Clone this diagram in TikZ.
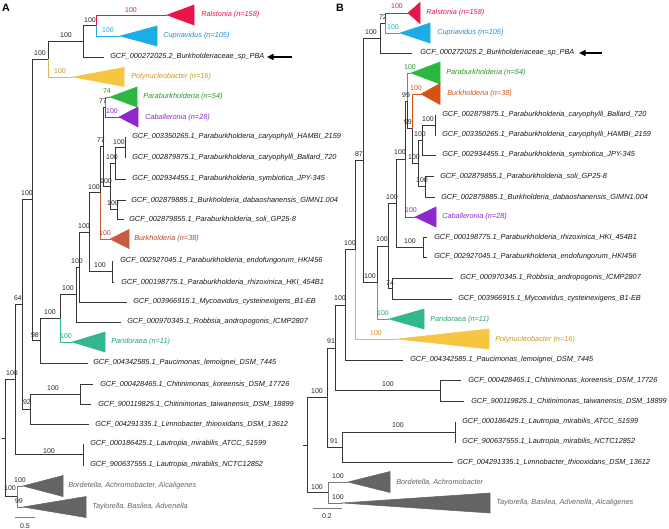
\documentclass[tikz,border=0pt]{standalone}
\usepackage{fontspec}
\setmainfont{Liberation Sans}
\usetikzlibrary{arrows.meta}
\newcommand{\leaffont}{\fontsize{5.5}{6}\selectfont\itshape}
\newcommand{\supfont}{\fontsize{5.2}{6}\selectfont}
\definecolor{lineg}{RGB}{55,55,55}
\definecolor{txtc}{RGB}{25,25,25}
\definecolor{supc}{RGB}{40,40,40}
\definecolor{ralc}{RGB}{232,22,72}
\definecolor{cupc}{RGB}{28,172,232}
\definecolor{cuptx}{RGB}{40,140,205}
\definecolor{polc}{RGB}{246,198,66}
\definecolor{polln}{RGB}{222,182,92}
\definecolor{poltx}{RGB}{200,150,40}
\definecolor{parc}{RGB}{44,184,64}
\definecolor{partx}{RGB}{40,150,40}
\definecolor{cabc}{RGB}{142,40,204}
\definecolor{buAc}{RGB}{200,92,62}
\definecolor{buAtx}{RGB}{170,72,52}
\definecolor{buBc}{RGB}{214,82,20}
\definecolor{buBtx}{RGB}{200,90,30}
\definecolor{panc}{RGB}{52,182,142}
\definecolor{pantx}{RGB}{40,160,120}
\definecolor{greyc}{RGB}{100,100,100}
\definecolor{greyln}{RGB}{120,120,120}
\begin{document}
\begin{tikzpicture}[x=0.75pt,y=-0.75pt,
  br/.style={draw=lineg, line width=0.7pt},
  leaf/.style={anchor=west, inner sep=0pt, font=\leaffont, text=txtc},
  sup/.style={inner sep=0pt, font=\supfont, text=supc},
  panel/.style={inner sep=0pt, font=\fontsize{8}{9}\selectfont\bfseries}]
\useasboundingbox (0,0) rectangle (669,529);
\fill[white] (0,0) rectangle (669,529);

%================ PANEL A =================
\node[panel] (labA) at (6,8) {A};
% coordinates
\coordinate (aRoot) at (5,438);
\coordinate (aRootL) at (2,438);
\coordinate (aFF) at (15,379.5);
\coordinate (aHH) at (17,496.5);
\coordinate (aBor) at (23,486);
\coordinate (aTay) at (23,507);
\coordinate (aCC) at (22,304.4);
\coordinate (aGG) at (83,454.5);
\coordinate (aL22) at (84,444);
\coordinate (aL23) at (84,465);
\coordinate (aEE) at (30,409);
\coordinate (aDD) at (80,394);
\coordinate (aL19) at (93,384);
\coordinate (aL20) at (91,404);
\coordinate (aLim) at (89,424);
\coordinate (aBB) at (32,199.75);
\coordinate (aTOP) at (48,59);
\coordinate (aN2) at (83,41.25);
\coordinate (aN1) at (96,25.5);
\coordinate (aRal) at (167,15);
\coordinate (aCup) at (120,36);
\coordinate (aPBA) at (104,57);
\coordinate (aPoly) at (73,77);
\coordinate (aAA) at (40,340.5);
\coordinate (aPau) at (88,363);
\coordinate (aZ) at (60,318);
\coordinate (aPan) at (72,342);
\coordinate (aY) at (76,294.5);
\coordinate (aRob) at (121,322);
\coordinate (aX) at (79,267);
\coordinate (aMyc) at (127,302);
\coordinate (aW) at (89,232);
\coordinate (aN1314) at (112,271.5);
\coordinate (aL13) at (113,261);
\coordinate (aL14) at (114,282);
\coordinate (aV) at (100,192.75);
\coordinate (aBur) at (110,239);
\coordinate (aT) at (103,146.5);
\coordinate (aU) at (105,107);
\coordinate (aPara) at (110,97);
\coordinate (aCab) at (119,117);
\coordinate (aR) at (110,186.25);
\coordinate (aQ) at (115,163.25);
\coordinate (aP) at (125,147.5);
\coordinate (aL7) at (125,137);
\coordinate (aL8) at (125,158);
\coordinate (aL9) at (126,179);
\coordinate (aS) at (117,209.5);
\coordinate (aL10) at (126,200);
\coordinate (aL11) at (124,219);

% black branches
\draw[br] (aRootL) -- (aRoot);
\draw[br] (aRoot) |- (aFF);
\draw[br] (aRoot) |- (aHH);
\draw[br] (aFF) |- (aCC);
\draw[br] (aFF) |- (aGG);
\draw[br] (aGG) |- (aL22);
\draw[br] (aGG) |- (aL23);
\draw[br] (aCC) |- (aBB);
\draw[br] (aCC) |- (aEE);
\draw[br] (aEE) |- (aDD);
\draw[br] (aEE) |- (aLim);
\draw[br] (aDD) |- (aL19);
\draw[br] (aDD) |- (aL20);
\draw[br] (aBB) |- (aTOP);
\draw[br] (aBB) |- (aAA);
\draw[br] (aTOP) |- (aN2);
\draw[br] (aN2) |- (aN1);
\draw[br] (aN2) |- (aPBA);
\draw[br] (aAA) |- (aZ);
\draw[br] (aAA) |- (aPau);
\draw[br] (aZ) |- (aY);
\draw[br] (aY) |- (aX);
\draw[br] (aY) |- (aRob);
\draw[br] (aX) |- (aW);
\draw[br] (aX) |- (aMyc);
\draw[br] (aW) |- (aV);
\draw[br] (aW) |- (aN1314);
\draw[br] (aN1314) |- (aL13);
\draw[br] (aN1314) |- (aL14);
\draw[br] (aV) |- (aT);
\draw[br] (aT) |- (aU);
\draw[br] (aT) |- (aR);
\draw[br] (aR) |- (aQ);
\draw[br] (aR) |- (aS);
\draw[br] (aQ) |- (aP);
\draw[br] (aQ) |- (aL9);
\draw[br] (aP) |- (aL7);
\draw[br] (aP) |- (aL8);
\draw[br] (aS) |- (aL10);
\draw[br] (aS) |- (aL11);
% coloured branches
\draw[br, draw=ralc] (aN1) |- (aRal);
\draw[br, draw=cupc] (aN1) |- (aCup);
\draw[br, draw=polln] (aTOP) |- (aPoly);
\draw[br, draw=panc] (aZ) |- (aPan);
\draw[br, draw=buAc] (aV) |- (aBur);
\draw[br, draw=parc] (aU) |- (aPara);
\draw[br, draw=cabc] (aU) |- (aCab);
\draw[br, draw=greyln] (aHH) |- (aBor);
\draw[br, draw=greyln] (aHH) |- (aTay);
% triangles
\filldraw[fill=ralc, draw=ralc] (aRal) -- ++(27,-10) -- ++(0,20) -- cycle;
\filldraw[fill=cupc, draw=cupc] (aCup) -- ++(37,-10) -- ++(0,20) -- cycle;
\filldraw[fill=polc, draw=polc] (aPoly) -- ++(51,-9.5) -- ++(0,19) -- cycle;
\filldraw[fill=parc, draw=parc] (aPara) -- ++(27,-10) -- ++(0,20) -- cycle;
\filldraw[fill=cabc, draw=cabc] (aCab) -- ++(19,-10) -- ++(0,20) -- cycle;
\filldraw[fill=buAc, draw=buAc] (aBur) -- ++(19,-9.5) -- ++(0,19) -- cycle;
\filldraw[fill=panc, draw=panc] (aPan) -- ++(33,-10) -- ++(0,20) -- cycle;
\filldraw[fill=greyc, draw=greyc] (aBor) -- ++(40,-10.5) -- ++(0,21) -- cycle;
\filldraw[fill=greyc, draw=greyc] (aTay) -- ++(63,-10.5) -- ++(0,21) -- cycle;
% leaf labels
\node[leaf, text=ralc] (aRalT) at (201,15) {Ralstonia (n=158)};
\node[leaf, text=cuptx] (aCupT) at (163,36) {Cupriavidus (n=105)};
\node[leaf] (aPBAT) at (110,57) {GCF\_000272025.2\_Burkholderiaceae\_sp\_PBA};
\node[leaf, text=poltx] (aPolyT) at (131,77) {Polynucleobacter (n=16)};
\node[leaf, text=partx] (aParaT) at (143,97) {Paraburkholderia (n=54)};
\node[leaf, text=cabc] (aCabT) at (145,118) {Caballeronia (n=28)};
\node[leaf] (aL7T) at (132,137) {GCF\_003350265.1\_Paraburkholderia\_caryophylli\_HAMBI\_2159};
\node[leaf] (aL8T) at (132,158) {GCF\_002879875.1\_Paraburkholderia\_caryophylli\_Ballard\_720};
\node[leaf] (aL9T) at (132,179) {GCF\_002934455.1\_Paraburkholderia\_symbiotica\_JPY-345};
\node[leaf] (aL10T) at (131,200) {GCF\_002879885.1\_Burkholderia\_dabaoshanensis\_GIMN1.004};
\node[leaf] (aL11T) at (129,219) {GCF\_002879855.1\_Paraburkholderia\_soli\_GP25-8};
\node[leaf, text=buAtx] (aBurT) at (134,239) {Burkholderia (n=38)};
\node[leaf] (aL13T) at (120,261) {GCF\_002927045.1\_Paraburkholderia\_endofungorum\_HKI456};
\node[leaf] (aL14T) at (121,282) {GCF\_000198775.1\_Paraburkholderia\_rhizoxinica\_HKI\_454B1};
\node[leaf] (aMycT) at (133,302) {GCF\_003966915.1\_Mycoavidus\_cysteinexigens\_B1-EB};
\node[leaf] (aRobT) at (127,322) {GCF\_000970345.1\_Robbsia\_andropogonis\_ICMP2807};
\node[leaf, text=pantx] (aPanT) at (111,342) {Pandoraea (n=11)};
\node[leaf] (aPauT) at (93,363) {GCF\_004342585.1\_Paucimonas\_lemoignei\_DSM\_7445};
\node[leaf] (aL19T) at (100,384) {GCF\_000428465.1\_Chitinimonas\_koreensis\_DSM\_17726};
\node[leaf] (aL20T) at (98,404) {GCF\_900119825.1\_Chitinimonas\_taiwanensis\_DSM\_18899};
\node[leaf] (aLimT) at (95,424) {GCF\_004291335.1\_Limnobacter\_thiooxidans\_DSM\_13612};
\node[leaf] (aL22T) at (90,444) {GCF\_000186425.1\_Lautropia\_mirabilis\_ATCC\_51599};
\node[leaf] (aL23T) at (90,465) {GCF\_900637555.1\_Lautropia\_mirabilis\_NCTC12852};
\node[leaf, text=greyc] (aBorT) at (68,486) {Bordetella, Achromobacter, Alcaligenes};
\node[leaf, text=greyc] (aTayT) at (92,507) {Taylorella, Basilea, Advenella};
% support values
\node[sup, text=ralc] (as1) at (131,10) {100};
\node[sup, text=cupc] (as2) at (108,30) {100};
\node[sup] (as3) at (90,20) {100};
\node[sup] (as4) at (66,35) {100};
\node[sup] (as5) at (40,53) {100};
\node[sup, text=poltx] (as6) at (60,71) {100};
\node[sup, text=partx] (as7) at (107,91) {74};
\node[sup] (as8) at (103,101) {77};
\node[sup, text=cabc] (as9) at (112,111) {100};
\node[sup] (as10) at (101,140) {77};
\node[sup] (as11) at (119,142) {100};
\node[sup] (as12) at (112,157) {100};
\node[sup] (as13) at (106,181) {100};
\node[sup] (as14) at (113,203) {100};
\node[sup] (as15) at (94,187) {100};
\node[sup, text=buAtx] (as16) at (105,233) {100};
\node[sup] (as17) at (84,226) {100};
\node[sup] (as18) at (100,265) {100};
\node[sup] (as19) at (77,261) {100};
\node[sup] (as20) at (68,288) {100};
\node[sup] (as21) at (50,312) {100};
\node[sup, text=pantx] (as22) at (66,336) {100};
\node[sup] (as23) at (35,335) {98};
\node[sup] (as24) at (27,193) {100};
\node[sup] (as25) at (18,298) {64};
\node[sup] (as26) at (12,373) {100};
\node[sup] (as27) at (53,388) {100};
\node[sup] (as28) at (27,402) {92};
\node[sup] (as29) at (49,451) {100};
\node[sup] (as30) at (20,480) {100};
\node[sup] (as31) at (10,488) {100};
\node[sup] (as32) at (19,501) {99};
% arrow
\coordinate (aArS) at (292,57);
\coordinate (aArE) at (267,57);
\draw[line width=1.1pt, -{Triangle[length=5pt,width=4.5pt]}] (aArS) -- (aArE);
% scale bar
\coordinate (aSc1) at (15,517);
\coordinate (aSc2) at (35,517);
\draw[draw=greyln, line width=0.7pt] (aSc1) -- (aSc2);
\node[sup] (aScT) at (25,526) {0.5};

%================ PANEL B =================
\node[panel] (labB) at (340,8) {B};
\coordinate (bRoot) at (307,445);
\coordinate (bRootL) at (303,445);
\coordinate (bB10) at (327,397.5);
\coordinate (bB12) at (328,492.5);
\coordinate (bBor) at (348,482);
\coordinate (bTay) at (342,503);
\coordinate (bB8) at (335,348);
\coordinate (bB9) at (342,447);
\coordinate (bLau) at (455,432);
\coordinate (bL21) at (456,422);
\coordinate (bL22) at (456,442);
\coordinate (bLim) at (453,462);
\coordinate (bB7) at (345,305);
\coordinate (bChi) at (440,390.5);
\coordinate (bL19) at (461,380);
\coordinate (bL20) at (464,401);
\coordinate (bB4) at (355,249.5);
\coordinate (bPau) at (403,360);
\coordinate (bB3) at (363,160);
\coordinate (bPoly) at (397,339);
\coordinate (bB2) at (380,38);
\coordinate (bB5) at (377,282.5);
\coordinate (bB1) at (385,23);
\coordinate (bPBA) at (412,53);
\coordinate (bRal) at (408,13);
\coordinate (bCup) at (400,33);
\coordinate (bBj) at (388,246);
\coordinate (bPan) at (389,319);
\coordinate (bBi) at (396,203);
\coordinate (bBk) at (392,288.5);
\coordinate (bRob) at (453,278);
\coordinate (bMyc) at (452,299);
\coordinate (bBg) at (405,159);
\coordinate (bBh) at (423,247);
\coordinate (bL12) at (427,237);
\coordinate (bL13) at (427,257);
\coordinate (bBf) at (407,101);
\coordinate (bCab) at (415,217);
\coordinate (bPara) at (411,73);
\coordinate (bBe) at (412,128.5);
\coordinate (bBur) at (421,94);
\coordinate (bBd) at (418,163);
\coordinate (bBb) at (422,140);
\coordinate (bBc) at (425,186.5);
\coordinate (bBa) at (435,125);
\coordinate (bL6) at (436,115);
\coordinate (bL7) at (436,135);
\coordinate (bL8) at (436,155);
\coordinate (bL9) at (434,176);
\coordinate (bL10) at (435,197);

\draw[br] (bRootL) -- (bRoot);
\draw[br] (bRoot) |- (bB10);
\draw[br] (bRoot) |- (bB12);
\draw[br] (bB10) |- (bB8);
\draw[br] (bB10) |- (bB9);
\draw[br] (bB9) |- (bLau);
\draw[br] (bB9) |- (bLim);
\draw[br] (bLau) |- (bL21);
\draw[br] (bLau) |- (bL22);
\draw[br] (bB8) |- (bB7);
\draw[br] (bB8) |- (bChi);
\draw[br] (bChi) |- (bL19);
\draw[br] (bChi) |- (bL20);
\draw[br] (bB7) |- (bB4);
\draw[br] (bB7) |- (bPau);
\draw[br] (bB4) |- (bB3);
\draw[br] (bB3) |- (bB2);
\draw[br] (bB3) |- (bB5);
\draw[br] (bB2) |- (bB1);
\draw[br] (bB2) |- (bPBA);
\draw[br] (bB5) |- (bBj);
\draw[br] (bBj) |- (bBi);
\draw[br] (bBj) |- (bBk);
\draw[br] (bBk) |- (bRob);
\draw[br] (bBk) |- (bMyc);
\draw[br] (bBi) |- (bBg);
\draw[br] (bBi) |- (bBh);
\draw[br] (bBh) |- (bL12);
\draw[br] (bBh) |- (bL13);
\draw[br] (bBg) |- (bBf);
\draw[br] (bBf) |- (bBe);
\draw[br] (bBe) |- (bBd);
\draw[br] (bBd) |- (bBb);
\draw[br] (bBd) |- (bBc);
\draw[br] (bBb) |- (bBa);
\draw[br] (bBb) |- (bL8);
\draw[br] (bBa) |- (bL6);
\draw[br] (bBa) |- (bL7);
\draw[br] (bBc) |- (bL9);
\draw[br] (bBc) |- (bL10);
\draw[br, draw=ralc] (bB1) |- (bRal);
\draw[br, draw=cupc] (bB1) |- (bCup);
\draw[br, draw=polln] (bB4) |- (bPoly);
\draw[br, draw=panc] (bB5) |- (bPan);
\draw[br, draw=cabc] (bBg) |- (bCab);
\draw[br, draw=parc] (bBf) |- (bPara);
\draw[br, draw=buBc] (bBe) |- (bBur);
\draw[br, draw=greyln] (bB12) |- (bBor);
\draw[br, draw=greyln] (bB12) |- (bTay);
% triangles
\filldraw[fill=ralc, draw=ralc] (bRal) -- ++(12,-10.5) -- ++(0,21) -- cycle;
\filldraw[fill=cupc, draw=cupc] (bCup) -- ++(30,-10) -- ++(0,20) -- cycle;
\filldraw[fill=parc, draw=parc] (bPara) -- ++(29,-11) -- ++(0,22) -- cycle;
\filldraw[fill=buBc, draw=buBc] (bBur) -- ++(19,-10.5) -- ++(0,21) -- cycle;
\filldraw[fill=cabc, draw=cabc] (bCab) -- ++(21,-10) -- ++(0,20) -- cycle;
\filldraw[fill=panc, draw=panc] (bPan) -- ++(35,-10) -- ++(0,20) -- cycle;
\filldraw[fill=polc, draw=polc] (bPoly) -- ++(92,-10) -- ++(0,20) -- cycle;
\filldraw[fill=greyc, draw=greyc] (bBor) -- ++(42,-10.5) -- ++(0,21) -- cycle;
\filldraw[fill=greyc, draw=greyc] (bTay) -- ++(148,-10) -- ++(0,20) -- cycle;
% leaf labels
\node[leaf, text=ralc] (bRalT) at (426,13) {Ralstonia (n=158)};
\node[leaf, text=cuptx] (bCupT) at (437,33) {Cupriavidus (n=105)};
\node[leaf] (bPBAT) at (420,53) {GCF\_000272025.2\_Burkholderiaceae\_sp\_PBA};
\node[leaf, text=partx] (bParaT) at (446,73) {Paraburkholderia (n=54)};
\node[leaf, text=buBtx] (bBurT) at (447,94) {Burkholderia (n=38)};
\node[leaf] (bL6T) at (442,115) {GCF\_002879875.1\_Paraburkholderia\_caryophylli\_Ballard\_720};
\node[leaf] (bL7T) at (442,135) {GCF\_003350265.1\_Paraburkholderia\_caryophylli\_HAMBI\_2159};
\node[leaf] (bL8T) at (442,155) {GCF\_002934455.1\_Paraburkholderia\_symbiotica\_JPY-345};
\node[leaf] (bL9T) at (440,176) {GCF\_002879855.1\_Paraburkholderia\_soli\_GP25-8};
\node[leaf] (bL10T) at (441,197) {GCF\_002879885.1\_Burkholderia\_dabaoshanensis\_GIMN1.004};
\node[leaf, text=cabc] (bCabT) at (442,217) {Caballeronia (n=28)};
\node[leaf] (bL12T) at (434,237) {GCF\_000198775.1\_Paraburkholderia\_rhizoxinica\_HKI\_454B1};
\node[leaf] (bL13T) at (434,257) {GCF\_002927045.1\_Paraburkholderia\_endofungorum\_HKI456};
\node[leaf] (bRobT) at (460,278) {GCF\_000970345.1\_Robbsia\_andropogonis\_ICMP2807};
\node[leaf] (bMycT) at (458,299) {GCF\_003966915.1\_Mycoavidus\_cysteinexigens\_B1-EB};
\node[leaf, text=pantx] (bPanT) at (430,320) {Pandoraea (n=11)};
\node[leaf, text=poltx] (bPolyT) at (495,340) {Polynucleobacter (n=16)};
\node[leaf] (bPauT) at (410,360) {GCF\_004342585.1\_Paucimonas\_lemoignei\_DSM\_7445};
\node[leaf] (bL19T) at (468,380) {GCF\_000428465.1\_Chitinimonas\_koreensis\_DSM\_17726};
\node[leaf] (bL20T) at (471,401) {GCF\_900119825.1\_Chitinimonas\_taiwanensis\_DSM\_18899};
\node[leaf] (bL21T) at (462,422) {GCF\_000186425.1\_Lautropia\_mirabilis\_ATCC\_51599};
\node[leaf] (bL22T) at (462,442) {GCF\_900637555.1\_Lautropia\_mirabilis\_NCTC12852};
\node[leaf] (bLimT) at (457,462) {GCF\_004291335.1\_Limnobacter\_thiooxidans\_DSM\_13612};
\node[leaf, text=greyc] (bBorT) at (396,482) {Bordetella, Achromobacter};
\node[leaf, text=greyc] (bTayT) at (496,503) {Taylorella, Basilea, Advenella, Alcaligenes};
% support values
\node[sup, text=ralc] (bs1) at (397,6) {100};
\node[sup] (bs2) at (383,17) {72};
\node[sup, text=cupc] (bs3) at (393,27) {100};
\node[sup] (bs4) at (371,32) {100};
\node[sup, text=partx] (bs5) at (410,67) {100};
\node[sup, text=buBtx] (bs6) at (416,88) {100};
\node[sup] (bs7) at (406,95) {99};
\node[sup] (bs8) at (428,119) {100};
\node[sup] (bs9) at (408,122) {99};
\node[sup] (bs10) at (420,134) {100};
\node[sup] (bs11) at (400,152) {100};
\node[sup] (bs12) at (414,157) {100};
\node[sup] (bs13) at (422,180) {100};
\node[sup] (bs14) at (392,197) {100};
\node[sup, text=cabc] (bs15) at (411,210) {100};
\node[sup] (bs16) at (382,239) {100};
\node[sup] (bs17) at (410,241) {100};
\node[sup] (bs18) at (370,276) {100};
\node[sup] (bs19) at (390,283) {74};
\node[sup, text=pantx] (bs20) at (383,313) {100};
\node[sup] (bs21) at (359,154) {87};
\node[sup] (bs22) at (350,243) {100};
\node[sup, text=poltx] (bs23) at (376,333) {100};
\node[sup] (bs24) at (340,298) {100};
\node[sup] (bs25) at (331,341) {91};
\node[sup] (bs26) at (388,384) {100};
\node[sup] (bs27) at (317,391) {100};
\node[sup] (bs28) at (398,425) {100};
\node[sup] (bs29) at (334,441) {91};
\node[sup] (bs30) at (317,487) {100};
\node[sup] (bs31) at (338,476) {100};
\node[sup] (bs32) at (338,497) {100};
% arrow
\coordinate (bArS) at (602,53);
\coordinate (bArE) at (579,53);
\draw[line width=1.1pt, -{Triangle[length=5pt,width=4.5pt]}] (bArS) -- (bArE);
% scale bar
\coordinate (bSc1) at (313,508);
\coordinate (bSc2) at (342,508);
\draw[draw=greyln, line width=0.7pt] (bSc1) -- (bSc2);
\node[sup] (bScT) at (327,516) {0.2};
\end{tikzpicture}
\end{document}
